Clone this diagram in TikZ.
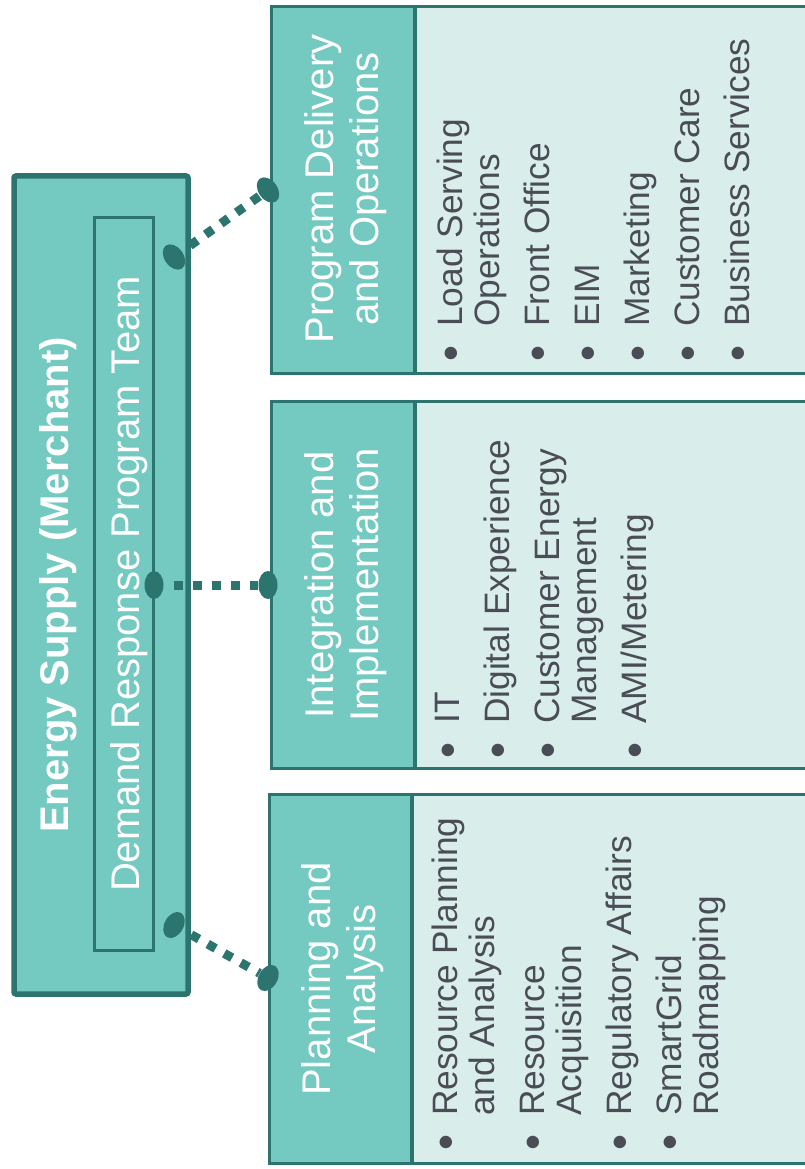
\documentclass[tikz,border=0pt]{standalone}
\usepackage{fontspec}
\setmainfont{Liberation Sans}
\usepackage{xcolor}
\usetikzlibrary{shapes.geometric}
\definecolor{tealdark}{HTML}{2B756E}
\definecolor{tealmid}{HTML}{74CAC1}
\definecolor{tealpale}{HTML}{D9EEEA}
\definecolor{inkgray}{HTML}{4A4D55}
\newcommand{\bitem}[1]{\makebox[32pt][l]{\hspace{-3pt}\raisebox{-4pt}{\scalebox{1.3}{\textbullet}}}#1}
\newcommand{\bcont}[1]{\hspace*{32pt}#1}

\begin{document}
\begin{tikzpicture}[x=1pt,y=-1pt,
  hdr/.style={draw=tealdark,fill=tealmid,line width=3.5pt},
  bdy/.style={draw=tealdark,fill=tealpale,line width=2.5pt},
  htext/.style={rotate=90,align=center,text=white,font=\fontsize{40}{45}\selectfont},
  btext/.style={rotate=90,align=left,anchor=north west,inner sep=0pt,text=inkgray,font=\fontsize{35.3}{37}\selectfont},
  knob/.style={ellipse,fill=tealdark,inner sep=0pt,minimum width=19pt,minimum height=28pt},
  link/.style={tealdark,line width=9pt,dash pattern=on 9pt off 10pt,dash phase=9pt}]
\useasboundingbox (0,0) rectangle (804,1169);
\draw[draw=tealdark,fill=tealmid,line width=5.5pt,rounded corners=2pt] (14,176) rectangle (188,994);
\draw[draw=tealdark,fill=tealmid,line width=3pt] (94.5,217.5) rectangle (153.5,950.5);
\node[rotate=90,anchor=base,inner sep=0pt,text=white,font=\fontsize{40}{45}\selectfont\bfseries] (es) at (68,585) {Energy Supply (Merchant)};
\node[rotate=90,anchor=base,inner sep=0pt,text=white,font=\fontsize{40}{45}\selectfont] (drt) at (139,584) {Demand Response Program Team};

\draw[bdy] (415,6.5) rectangle (810,373.5);
\draw[hdr] (271.5,6.5) rectangle (415,373.5);
\draw[bdy] (415,401.5) rectangle (810,768.5);
\draw[hdr] (271.5,401.5) rectangle (415,768.5);
\draw[bdy] (412,794.5) rectangle (810,1163.5);
\draw[hdr] (269.5,794.5) rectangle (412,1163.5);

\node[htext] (hpd) at (346,189) {Program Delivery\\and Operations};
\node[htext] (hii) at (346,585) {Integration and\\Implementation};
\node[htext] (hpa) at (343,979) {Planning and\\Analysis};

\node[btext] (bpd) at (437,359) {\bitem{Load Serving}\\ \bcont{Operations}\\[13pt]
  \bitem{Front Office}\\[13pt] \bitem{EIM}\\[13pt] \bitem{Marketing}\\[13pt]
  \bitem{Customer Care}\\[13pt] \bitem{Business Services}};
\node[btext] (bii) at (435,756) {\bitem{IT}\\[13pt] \bitem{Digital Experience}\\[13pt]
  \bitem{Customer Energy}\\ \bcont{Management}\\[13pt] \bitem{AMI/Metering}};
\node[btext] (bpa) at (432,1148) {\bitem{Resource Planning}\\ \bcont{and Analysis}\\[13pt]
  \bitem{Resource}\\ \bcont{Acquisition}\\[13pt] \bitem{Regulatory Affairs}\\[13pt]
  \bitem{SmartGrid}\\ \bcont{Roadmapping}};

\node[knob,rotate=35.5] (k1) at (174,257) {};
\node[knob,rotate=35.5] (k2) at (268,190) {};
\node[knob] (k3) at (154,585) {};
\node[knob] (k4) at (268,585) {};
\node[knob,rotate=-29.4] (k5) at (174,925) {};
\node[knob,rotate=-29.4] (k6) at (268,978) {};
\draw[link] (k1) -- (k2);
\draw[link] (k3) -- (k4);
\draw[link] (k5) -- (k6);
\end{tikzpicture}
\end{document}
